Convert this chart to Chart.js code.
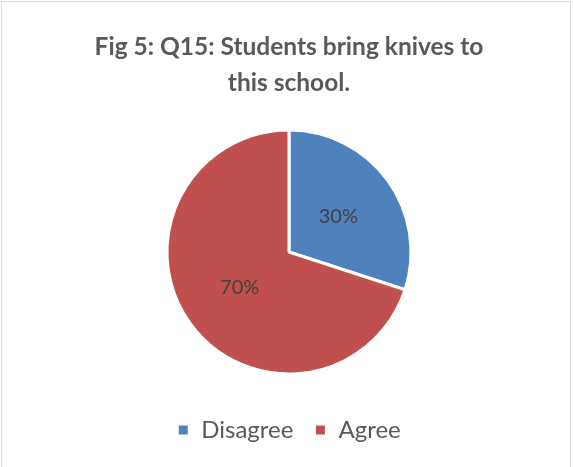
<!DOCTYPE html>
<html>
<head>
<meta charset="utf-8">
<script src="https://cdn.jsdelivr.net/npm/chart.js@4"></script>
<style>
  html, body { margin: 0; padding: 0; background: #fff; }
  #frame { position: absolute; left: 1px; top: 1px; width: 570px; height: 470px; border: 1px solid #d9d9d9; box-sizing: border-box; }
  #wrap { position: absolute; left: 0; top: 0; width: 573px; height: 467px; }
</style>
</head>
<body>
<div id="frame"></div>
<div id="wrap"><canvas id="myPieChart"></canvas></div>
<script>
var categories = ['Disagree', 'Agree'];
var values = [30, 70];
var colors = ['#4F81BD', '#C0504D'];
var titleLines = ['Fig 5: Q15: Students bring knives to', 'this school.'];

// draws "30%" etc at the middle of each slice
var sliceLabels = {
    id: 'sliceLabels',
    afterDatasetsDraw: function (chart) {
        var ctx = chart.ctx;
        var meta = chart.getDatasetMeta(0);
        var total = values.reduce(function (a, b) { return a + b; }, 0);
        ctx.save();
        ctx.font = '20px Lato';
        ctx.fillStyle = '#404040';
        ctx.textAlign = 'center';
        ctx.textBaseline = 'middle';
        meta.data.forEach(function (arc, i) {
            var p = arc.tooltipPosition();
            ctx.fillText(Math.round(values[i] / total * 100) + '%', p.x, p.y);
        });
        ctx.restore();
    }
};

var ctx = document.getElementById('myPieChart').getContext('2d');
var myPieChart = new Chart(ctx, {
    type: 'pie',
    data: {
        labels: categories,
        datasets: [{
            data: values,
            backgroundColor: colors,
            borderColor: '#ffffff',
            borderWidth: 3,
            radius: 122
        }]
    },
    options: {
        responsive: true,
        maintainAspectRatio: false,
        animation: false,
        layout: {
            padding: { top: 20, bottom: 15, left: 5, right: 0 }
        },
        plugins: {
            title: {
                display: true,
                text: titleLines,
                color: '#595959',
                font: { family: 'Lato', size: 24.5, weight: 'bold', lineHeight: 1.47 },
                padding: { top: 9, bottom: 6 }
            },
            legend: {
                display: true,
                position: 'bottom',
                labels: {
                    color: '#595959',
                    font: { family: 'Lato', size: 24 },
                    boxWidth: 12,
                    boxHeight: 12,
                    padding: 21
                }
            },
            tooltip: { enabled: false }
        }
    },
    plugins: [sliceLabels]
});
</script>
</body>
</html>
